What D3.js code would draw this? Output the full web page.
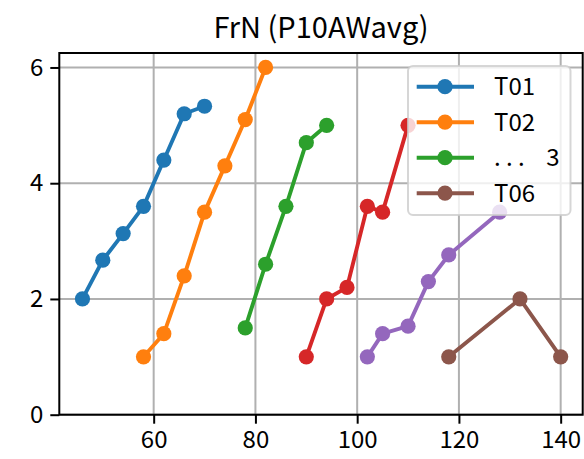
<!DOCTYPE html>
<html><head><meta charset="utf-8">
<script src="https://cdn.jsdelivr.net/npm/d3@7"></script>
<style>body{margin:0;background:#fff}svg{display:block}</style>
</head><body>
<script>
const seriesNames = ["T01","T02","T03","T04","T05","T06"];
const legendLabels = ["T01","T02",". . .    3","T06"];
const legendIndex = [0,1,2,5];
const colors = ["#1f77b4","#ff7f0e","#2ca02c","#d62728","#9467bd","#8c564b"];
const xT01=[46,50,54,58,62,66,70],        yT01=[2,2.67,3.13,3.6,4.4,5.2,5.33];
const xT02=[58,62,66,70,74,78,82],        yT02=[1,1.4,2.4,3.5,4.3,5.1,6];
const xT03=[78,82,86,90,94],              yT03=[1.5,2.6,3.6,4.7,5.0];
const xT04=[90,94,98,102,105,110],        yT04=[1,2,2.2,3.6,3.5,5];
const xT05=[102,105,110,114,118,128],     yT05=[1,1.4,1.53,2.3,2.76,3.5];
const xT06=[118,132,140],                 yT06=[1,2,1];
const xTicks=[60,80,100,120,140], yTicks=[0,2,4,6];
const title="FrN (P10AWavg)";

const xs=[xT01,xT02,xT03,xT04,xT05,xT06], ys=[yT01,yT02,yT03,yT04,yT05,yT06];
const series = seriesNames.map((n,i)=>({name:n,color:colors[i],pts:xs[i].map((x,j)=>[x,ys[i][j]])}));

const W=584,H=459, L=59.3,R=582.7,T=53,B=414.7;
const FONT='"Noto Sans CJK JP", sans-serif';
const svg=d3.select("body").append("svg").attr("width",W).attr("height",H);
const x=d3.scaleLinear().domain([41.45,144.33]).range([L,R]);
const y=d3.scaleLinear().domain([0,6.25]).range([B,T]);

// grid
svg.append("g").selectAll("line").data(xTicks).join("line")
 .attr("x1",d=>x(d)).attr("x2",d=>x(d)).attr("y1",T).attr("y2",B)
 .attr("stroke","#b0b0b0").attr("stroke-width",2);
svg.append("g").selectAll("line").data(yTicks).join("line")
 .attr("x1",L).attr("x2",R).attr("y1",d=>y(d)).attr("y2",d=>y(d))
 .attr("stroke","#b0b0b0").attr("stroke-width",2);

// series
const line=d3.line().x(d=>x(d[0])).y(d=>y(d[1]));
series.forEach(s=>{
  const g=svg.append("g");
  g.append("path").attr("d",line(s.pts)).attr("fill","none").attr("stroke",s.color).attr("stroke-width",3.9).attr("stroke-linejoin","round");
  g.selectAll("circle").data(s.pts).join("circle").attr("cx",d=>x(d[0])).attr("cy",d=>y(d[1])).attr("r",7.6).attr("fill",s.color);
});

// axes
const xa=svg.append("g").attr("transform",`translate(0,${B})`).call(d3.axisBottom(x).tickValues(xTicks).tickSize(9).tickPadding(7).tickFormat(d3.format("d")));
const ya=svg.append("g").attr("transform",`translate(${L},0)`).call(d3.axisLeft(y).tickValues(yTicks).tickSize(9).tickPadding(7).tickFormat(d3.format("d")));
[xa,ya].forEach(a=>{a.select(".domain").remove();a.selectAll("line").attr("stroke","#000").attr("stroke-width",2);
  a.selectAll("text").attr("font-family",FONT).attr("font-size",24).attr("fill","#000");});
svg.append("rect").attr("x",L).attr("y",T).attr("width",R-L).attr("height",B-T).attr("fill","none").attr("stroke","#000").attr("stroke-width",2);

// title
svg.append("text").attr("x",(L+R)/2).attr("y",38).attr("text-anchor","middle").attr("font-family",FONT).attr("font-size",29).text(title);

// legend
const lg=svg.append("g");
lg.append("rect").attr("x",408).attr("y",66).attr("width",162.5).attr("height",149).attr("rx",5)
 .attr("fill","#fff").attr("fill-opacity",0.8).attr("stroke","#cccccc").attr("stroke-opacity",0.8).attr("stroke-width",2);
legendLabels.forEach((lab,i)=>{
  const s=series[legendIndex[i]], yy=86.7+i*35.5;
  lg.append("line").attr("x1",416.7).attr("x2",474).attr("y1",yy).attr("y2",yy).attr("stroke",s.color).attr("stroke-width",3.9);
  lg.append("circle").attr("cx",445).attr("cy",yy).attr("r",7.6).attr("fill",s.color);
  lg.append("text").attr("x",494).attr("y",yy).attr("dy","0.36em").attr("font-family",FONT).attr("font-size",24)
   .style("white-space","pre").text(lab);
});
</script>
</body></html>
